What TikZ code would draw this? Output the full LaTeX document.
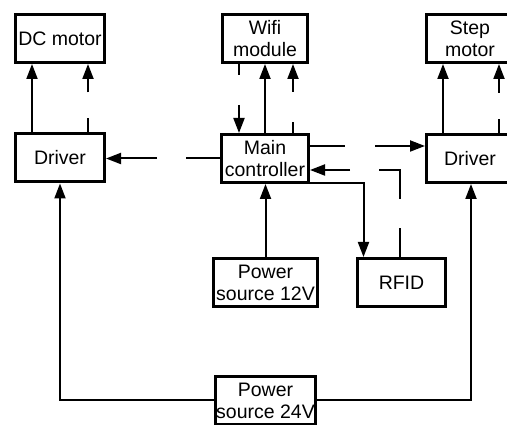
\documentclass[tikz,border=0pt]{standalone}
\usepackage{fontspec}
\setmainfont{Liberation Sans}
\usetikzlibrary{arrows.meta}

\begin{document}
\begin{tikzpicture}[x=1pt,y=1pt,
  blk/.style={draw,line width=3pt,minimum height=48pt,align=center,inner sep=1pt,
    font=\fontsize{19.5}{22}\selectfont},
  arr/.style={line width=2pt,-{Triangle[length=15pt,width=11pt]}},
  broken/.style 2 args={dash pattern=on #1 off #2 on 600pt}]
\useasboundingbox (0,0) rectangle (507,425);
\clip (0,0) rectangle (507,425);
\node[blk,minimum width=89pt] (dcm) at (60,386.5) {DC motor};
\node[blk,minimum width=89pt] (drvL) at (60,267) {Driver};
\node[blk,minimum width=85pt] (wifi) at (265,386.5) {Wifi\\module};
\node[blk,minimum width=87pt] (mainc) at (265,266.5) {Main\\controller};
\node[blk,minimum width=87pt] (stepm) at (470,386.5) {Step\\motor};
\node[blk,minimum width=87pt] (drvR) at (470,266.5) {Driver};
\node[blk,minimum width=104pt] (ps12) at (265.5,142.5) {Power\\source 12V};
\node[blk,minimum width=88pt] (rfid) at (401.5,142.5) {RFID};
\node[blk,minimum width=100pt] (ps24) at (265.5,24.5) {Power\\source 24V};
\draw[arr] ([xshift=-28pt]drvL.north) -- ([xshift=-28pt]dcm.south);
\draw[arr,broken={14pt}{26pt}] ([xshift=28pt]drvL.north) -- ([xshift=28pt]dcm.south);
\draw[arr,broken={34pt}{29pt}] (mainc.west) -- (mainc.west -| drvL.east);
\draw[arr] (mainc.north) -- (wifi.south);
\draw[arr,broken={11pt}{30pt}] ([xshift=28pt]mainc.north) -- ([xshift=28pt]wifi.south);
\draw[arr,broken={11pt}{30pt}] ([xshift=-26pt]wifi.south) -- ([xshift=-26pt]mainc.north);
\draw[arr] ([xshift=-27pt]drvR.north) -- ([xshift=-27pt]stepm.south);
\draw[arr,broken={14pt}{26pt}] ([xshift=29pt]drvR.north) -- ([xshift=29pt]stepm.south);
\draw[arr,broken={35pt}{30pt}] ([yshift=12.5pt]mainc.east) -- ([yshift=12.5pt]mainc.east -| drvR.west);
\draw[arr,dash pattern=on 29pt off 29pt on 50pt off 29pt on 600pt]
  ([xshift=-1.5pt]rfid.north) |- ([yshift=-11.5pt]mainc.east);
\draw[arr] ([yshift=1pt]mainc.south east) -| ([xshift=-38pt]rfid.north);
\draw[arr] (ps12.north) -- (ps12.north |- mainc.south);
\draw[arr] (ps24.west) -| (drvL.south);
\draw[arr] (ps24.east) -| ([xshift=1pt]drvR.south);
\end{tikzpicture}
\end{document}
